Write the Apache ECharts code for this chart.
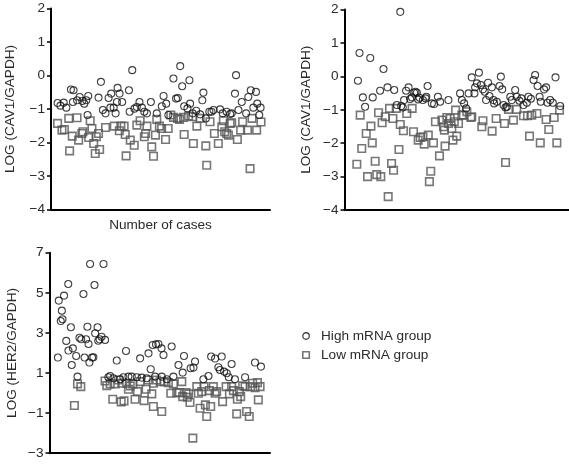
<!DOCTYPE html>
<html>
<head>
<meta charset="utf-8">
<script src="https://cdn.jsdelivr.net/npm/echarts@6/dist/echarts.min.js"></script>
<style>html,body{margin:0;padding:0;background:#fff}#c{width:569px;height:464px}</style>
</head>
<body>
<div id="c"></div>
<script>
// Panel 1: CAV1 (left top) — [case, log value]
const p1High = [[3.0,-0.82],[4.3,-0.90],[5.8,-0.81],[7.0,-0.96],[9.1,-0.42],[10.3,-0.44],[10.0,-0.79],[11.9,-0.74],[13.1,-0.64],[14.3,-0.76],[15.2,-0.84],[16.1,-0.74],[17.0,-0.61],[16.7,-1.18],[21.7,-0.66],[22.8,-0.19],[23.7,-1.03],[24.9,-1.13],[26.3,-0.67],[27.1,-0.96],[27.5,-0.54],[28.6,-0.96],[29.5,-1.13],[30.1,-0.79],[30.4,-0.37],[31.3,-0.54],[32.5,-0.79],[35.6,-0.44],[35.9,-1.08],[37.1,0.16],[38.1,-0.99],[39.2,-0.94],[40.4,-0.79],[41.5,-0.96],[42.6,-1.08],[43.8,-1.13],[45.6,-0.79],[48.3,-1.13],[50.6,-0.92],[51.4,-0.61],[52.6,-0.84],[53.6,-1.18],[55.9,-0.09],[57.1,-0.69],[57.9,-0.67],[59.0,0.28],[59.9,-0.32],[60.8,-0.92],[62.3,-0.98],[63.2,-0.14],[63.5,-0.84],[64.7,-1.13],[66.3,-1.05],[68.1,-1.16],[69.1,-0.74],[69.6,-0.51],[70.7,-1.28],[72.3,-1.08],[73.3,-1.08],[74.2,-1.03],[77.2,-1.01],[78.4,-1.13],[80.2,-1.08],[81.8,-1.15],[82.5,-1.13],[84.0,-0.54],[84.5,0.01],[85.6,-1.03],[87.1,-0.79],[89.1,-1.13],[90.1,-0.64],[91.2,-0.44],[92.4,-0.96],[93.6,-0.49],[94.2,-0.84],[95.1,-1.18],[95.7,-0.96]];
const p1Low = [[3.0,-1.43],[5.0,-1.63],[6.1,-1.61],[8.1,-1.28],[8.5,-2.25],[9.7,-1.81],[11.9,-1.26],[12.6,-1.93],[14.1,-1.73],[14.6,-1.68],[17.2,-1.85],[17.9,-1.35],[18.7,-1.58],[19.5,-2.03],[20.2,-2.33],[20.7,-1.83],[21.7,-1.73],[22.2,-2.21],[24.9,-1.55],[28.9,-1.51],[31.2,-1.65],[31.9,-1.51],[33.4,-1.51],[33.9,-1.76],[34.3,-2.40],[36.2,-1.93],[38.0,-2.08],[39.2,-1.48],[40.7,-1.35],[42.6,-1.83],[43.2,-1.73],[43.8,-1.51],[46.0,-2.13],[46.8,-2.41],[47.7,-1.78],[48.3,-1.31],[49.5,-1.51],[50.5,-1.58],[52.3,-1.91],[53.5,-1.58],[54.7,-1.18],[55.9,-1.25],[57.8,-1.28],[58.7,-1.31],[60.5,-1.25],[60.8,-1.76],[62.8,-1.21],[64.7,-1.23],[65.0,-2.03],[66.6,-1.51],[68.1,-1.28],[70.7,-2.10],[71.1,-2.68],[72.6,-1.38],[74.6,-1.73],[76.4,-2.03],[78.0,-1.53],[78.7,-1.35],[79.3,-1.68],[80.2,-1.73],[81.0,-1.78],[81.8,-1.43],[82.5,-1.41],[85.1,-1.91],[86.6,-1.63],[87.5,-1.38],[89.7,-1.63],[90.9,-2.78],[91.8,-1.28],[93.9,-1.63],[95.9,-1.39]];

// Panel 2: CAV1 (right top)
const p2High = [[6.0,-0.13],[6.7,0.70],[8.2,-0.63],[9.2,-0.91],[11.5,0.55],[12.6,-0.63],[15.9,-0.43],[17.4,0.22],[19.2,-0.33],[22.2,-0.41],[23.4,-0.86],[24.9,1.93],[25.3,-0.89],[26.0,-0.93],[26.6,-0.71],[27.5,-0.43],[28.6,-0.33],[29.3,-0.68],[30.1,-0.63],[31.1,-0.49],[31.7,-0.46],[32.3,-0.49],[32.9,-0.69],[33.5,-0.64],[35.0,-0.71],[36.2,-0.66],[37.1,-0.29],[36.5,-0.61],[39.0,-0.81],[40.0,-0.83],[41.7,-0.61],[42.7,-0.76],[46.4,-0.71],[51.6,-0.51],[52.4,-0.71],[53.4,-0.81],[54.3,-0.96],[55.4,-0.51],[56.8,-0.03],[58.0,-0.51],[58.3,-0.33],[59.1,-0.21],[60.0,0.11],[60.9,-0.26],[61.8,-0.39],[62.6,-0.46],[63.2,-0.71],[64.1,-0.19],[64.7,-0.59],[65.8,-0.33],[66.5,-0.71],[66.8,-0.81],[68.0,-0.76],[69.2,-0.29],[69.8,-0.01],[70.4,-0.39],[71.0,-0.86],[71.9,-0.93],[72.5,-0.91],[74.0,-0.61],[74.7,-0.71],[76.2,-0.41],[76.9,-0.61],[78.1,-0.73],[79.0,-0.66],[79.9,-0.86],[81.4,-0.79],[82.1,-0.61],[83.2,-0.67],[84.4,-0.11],[85.1,0.04],[86.2,-0.29],[87.1,-0.61],[87.6,-0.76],[89.1,-0.39],[90.0,-0.33],[90.6,-0.79],[91.8,-0.71],[93.0,-0.79],[94.2,-0.03],[96.3,-0.89]];
const p2Low = [[5.5,-2.63],[7.0,-1.16],[7.7,-2.16],[9.7,-1.71],[10.3,-3.00],[11.8,-1.49],[12.4,-1.99],[13.7,-2.54],[14.4,-2.94],[15.2,-1.09],[16.2,-3.00],[16.8,-1.39],[18.2,-1.21],[19.5,-3.60],[20.1,-0.96],[21.0,-2.61],[21.6,-1.26],[21.9,-2.81],[23.1,-0.96],[24.3,-2.19],[24.9,-1.44],[26.3,-1.63],[27.8,-1.11],[30.2,-0.96],[30.8,-1.66],[32.9,-1.91],[33.8,-1.83],[35.0,-1.81],[35.6,-2.03],[37.4,-1.76],[37.9,-3.15],[38.5,-2.84],[39.7,-1.99],[40.6,-1.36],[42.4,-2.38],[43.5,-1.31],[44.2,-1.51],[44.6,-1.61],[44.9,-2.09],[45.7,-1.23],[46.4,-1.41],[47.2,-1.26],[47.9,-1.56],[48.4,-1.91],[49.0,-1.36],[49.6,-1.01],[50.1,-1.79],[50.9,-1.41],[52.4,-1.16],[53.1,-1.16],[54.6,-1.06],[56.4,-1.23],[56.8,-1.21],[61.3,-1.51],[61.8,-1.33],[65.9,-1.64],[67.7,-1.26],[71.4,-1.41],[71.9,-2.58],[73.2,-0.99],[75.4,-1.31],[76.9,-0.99],[79.9,-1.18],[81.7,-1.18],[82.6,-1.79],[83.6,-1.16],[85.9,-1.11],[87.4,-1.99],[90.0,-1.29],[91.2,-1.59],[93.6,-1.23],[94.8,-1.99],[96.0,-1.01]];

// Panel 3: HER2 (left bottom)
const p3High = [[3.8,1.77],[4.2,4.61],[5.1,3.59],[5.9,3.68],[5.6,4.11],[6.6,4.86],[7.6,2.60],[8.5,5.44],[8.6,2.12],[9.7,3.28],[10.1,1.40],[10.6,2.23],[12.1,1.85],[12.7,0.82],[13.6,2.76],[14.4,2.68],[15.4,4.94],[15.9,1.77],[16.6,2.68],[17.2,3.31],[17.7,2.45],[18.1,1.52],[18.4,6.44],[19.3,1.77],[19.9,1.78],[20.4,5.39],[20.7,2.98],[21.8,3.28],[22.1,2.61],[22.7,2.68],[23.6,2.81],[24.5,6.44],[25.2,2.65],[26.7,0.79],[27.5,0.85],[29.0,0.74],[30.5,1.62],[32.0,0.69],[33.5,0.79],[34.7,2.10],[35.8,0.82],[37.3,0.82],[39.6,0.79],[41.1,1.73],[41.8,0.77],[44.1,0.74],[44.9,1.98],[45.9,1.19],[46.8,2.40],[47.9,0.82],[48.3,2.43],[49.4,2.45],[50.8,2.23],[50.9,0.82],[51.7,1.90],[53.2,0.69],[55.4,2.32],[56.2,0.82],[58.5,1.40],[60.4,1.02],[61.0,1.85],[64.0,1.24],[65.3,1.27],[66.0,1.57],[69.8,0.69],[72.1,0.85],[73.3,1.82],[75.1,1.72],[76.6,1.29],[77.3,1.15],[78.1,1.82],[79.2,1.07],[80.4,0.99],[81.3,0.79],[82.6,1.45],[84.1,0.69],[88.7,0.79],[93.2,1.52],[95.9,1.32]];
const p3Low = [[11.3,-0.62],[12.7,0.46],[14.2,0.32],[25.2,0.60],[26.0,0.37],[27.5,0.46],[28.7,-0.31],[29.8,0.46],[31.3,0.65],[32.5,-0.44],[32.8,0.49],[33.8,-0.39],[35.0,0.49],[35.8,0.19],[36.6,0.36],[37.8,0.46],[38.8,-0.31],[39.9,0.07],[41.1,0.57],[42.9,-0.38],[43.8,0.19],[44.7,0.65],[46.4,-0.04],[47.1,-0.67],[47.1,0.49],[48.6,0.65],[50.2,0.57],[50.9,-0.92],[52.0,0.57],[53.9,0.52],[55.0,-0.01],[56.2,0.46],[57.7,0.02],[58.9,0.02],[60.0,0.57],[60.4,-0.18],[61.9,0.02],[62.5,-0.21],[63.1,-0.04],[63.7,-0.47],[65.0,-2.25],[66.8,0.32],[67.5,-0.01],[68.3,-0.76],[69.0,0.07],[70.1,0.32],[70.7,-0.59],[71.3,-1.17],[72.5,0.12],[73.1,-0.67],[74.3,0.32],[75.1,-0.01],[75.8,0.07],[78.5,-0.43],[80.1,0.32],[81.6,-0.04],[82.6,0.32],[83.4,0.12],[84.9,-1.04],[85.2,-0.31],[86.1,0.07],[86.7,-0.18],[87.6,0.36],[88.7,0.32],[89.4,-0.92],[90.6,-1.17],[91.2,0.32],[92.1,0.49],[93.2,0.27],[94.3,0.52],[94.7,-0.34],[95.5,0.32]];

const cavTicks = [-4, -3, -2, -1, 0, 1, 2];
const herTicks = [-3, -1, 1, 3, 5, 7];
const legendNames = ['High mRNA group', 'Low mRNA group'];
const yNames = ['LOG (CAV1/GAPDH)', 'LOG (CAV1/GAPDH)', 'LOG (HER2/GAPDH)'];
const xName = 'Number of cases';

const FONT = 'Liberation Sans, Arial, sans-serif';
const TXT = '#2a2a2a';
const FS = 13.6;

function yAxis(idx, ticks, name, gap) {
  return {
    type: 'value', gridIndex: idx, min: ticks[0], max: ticks[ticks.length - 1],
    name: name, nameLocation: 'middle', nameGap: gap, nameRotate: 90,
    nameTextStyle: {fontFamily: FONT, fontSize: FS, color: TXT},
    axisLine: {show: true, lineStyle: {color: '#000', width: 2}},
    axisTick: {show: true, length: 4, inside: false, customValues: ticks, lineStyle: {color: '#000', width: 1.5}},
    axisLabel: {customValues: ticks, margin: 6, fontFamily: FONT, fontSize: FS, color: TXT,
      formatter: v => String(v).replace('-', '\u2212')},
    splitLine: {show: false}
  };
}
function xAxis(idx, name) {
  return {
    type: 'value', gridIndex: idx, min: 0, max: 100,
    name: name || '', nameLocation: 'middle', nameGap: 9,
    nameTextStyle: {fontFamily: FONT, fontSize: FS, color: TXT},
    axisLine: {show: true, onZero: false, lineStyle: {color: '#000', width: 2}},
    axisTick: {show: false}, axisLabel: {show: false}, splitLine: {show: false}
  };
}
const highStyle = {color: 'rgba(255,255,255,0)', borderColor: '#111', borderWidth: 1.1};
const lowStyle = {color: 'rgba(255,255,255,0)', borderColor: '#555', borderWidth: 1.6};
function hi(idx, data) {
  return {name: legendNames[0], type: 'scatter', xAxisIndex: idx, yAxisIndex: idx, data: data,
    symbol: 'circle', symbolSize: 7, itemStyle: highStyle, z: 3, silent: true};
}
function lo(idx, data) {
  return {name: legendNames[1], type: 'scatter', xAxisIndex: idx, yAxisIndex: idx, data: data,
    symbol: 'rect', symbolSize: 7.5, itemStyle: lowStyle, z: 2, silent: true};
}

const chart = echarts.init(document.getElementById('c'), null, {renderer: 'canvas'});
chart.setOption({
  animation: false,
  backgroundColor: '#fff',
  grid: [
    {left: 51, top: 8.5, width: 219, height: 201},
    {left: 344.5, top: 9.5, width: 224, height: 200.5},
    {left: 49.5, top: 252.7, width: 220.5, height: 200.5}
  ],
  xAxis: [xAxis(0, xName), xAxis(1), xAxis(2)],
  yAxis: [yAxis(0, cavTicks, yNames[0], 34), yAxis(1, cavTicks, yNames[1], 31), yAxis(2, herTicks, yNames[2], 30)],
  legend: {
    orient: 'vertical', left: 297, top: 324, itemWidth: 14, itemHeight: 6.5, itemGap: 5,
    textStyle: {fontFamily: FONT, fontSize: FS, color: TXT, padding: [0, 0, 0, 3]},
    data: [
      {name: legendNames[0], icon: 'circle', itemStyle: {color: 'rgba(255,255,255,0)', borderColor: '#111', borderWidth: 1.3}},
      {name: legendNames[1], icon: 'path://M0,0L10,0L10,10L0,10Z', symbolKeepAspect: true, itemStyle: {color: 'rgba(255,255,255,0)', borderColor: '#555', borderWidth: 1.6}}
    ],
    selectedMode: false
  },
  series: [lo(0, p1Low), hi(0, p1High), lo(1, p2Low), hi(1, p2High), lo(2, p3Low), hi(2, p3High)]
});
</script>
</body>
</html>
